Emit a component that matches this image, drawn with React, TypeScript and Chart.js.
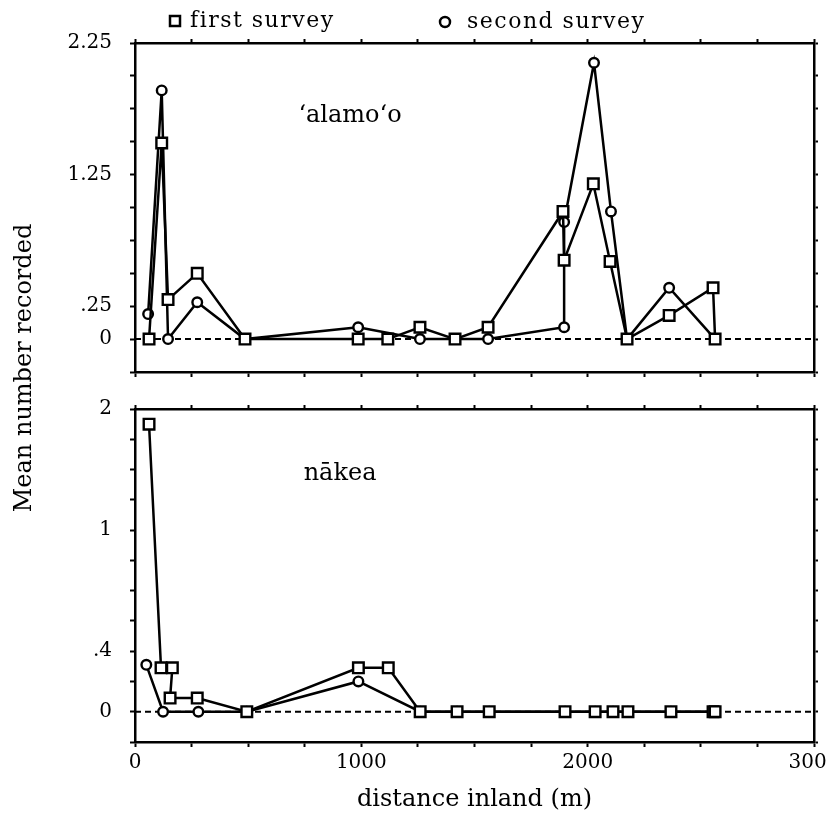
import React, { useEffect, useRef } from 'react';
import { Chart, registerables } from 'chart.js';

Chart.register(...registerables);

const FONT = '"DejaVu Serif", "Liberation Serif", serif';

// ---- data (distance inland in m, mean number recorded) ----
const seriesLabels = ['first survey', 'second survey'];

// 'alamo'o panel
const topFirstX = [62, 118, 146, 275, 486, 986, 1117, 1259, 1414, 1560, 1891, 1896, 2025, 2099, 2174, 2360, 2554, 2563];
const topFirstY = [0, 1.49, 0.3, 0.5, 0, 0, 0, 0.09, 0, 0.09, 0.97, 0.6, 1.18, 0.59, 0, 0.18, 0.39, 0];
const topSecondX = [58, 118, 146, 275, 486, 986, 1259, 1414, 1560, 1896, 1896, 2028, 2103, 2174, 2360, 2563];
const topSecondY = [0.19, 1.89, 0, 0.28, 0, 0.09, 0, 0, 0, 0.09, 0.89, 2.1, 0.97, 0, 0.39, 0];

// nakea panel
const botFirstX = [62, 115, 165, 155, 275, 494, 987, 1119, 1260, 1423, 1565, 1900, 2033, 2112, 2178, 2368, 2554, 2563];
const botFirstY = [1.9, 0.29, 0.29, 0.09, 0.09, 0, 0.29, 0.29, 0, 0, 0, 0, 0, 0, 0, 0, 0, 0];
const botSecondX = [50, 124, 280, 494, 987, 1260, 1423, 1565, 1900, 2033, 2112, 2178, 2368, 2563];
const botSecondY = [0.31, 0, 0, 0, 0.2, 0, 0, 0, 0, 0, 0, 0, 0, 0];

// dashed reference line at zero
const zeroLineX = [0, 3000];
const zeroLineY = [0, 0];

// axes
const xMin = 0;
const xMax = 3000;
const xTickStep = 250;
const xLabelValues = [0, 1000, 2000, 3000];

const topYRange = [-0.25, 2.25];
const topYStep = 0.25;
const topYTickValues = [0, 0.25, 1.25, 2.25];
const topYTickLabels = ['0', '.25', '1.25', '2.25'];

const botYRange = [-0.2, 2.0];
const botYStep = 0.2;
const botYTickValues = [0, 0.4, 1.2, 2];
const botYTickLabels = ['0', '.4', '1', '2'];

const panelNames = ['\u2018alamo\u2018o', 'n\u0101kea'];
const panelNameAt = [
  [950, 1.7],
  [906, 1.57],
];
const xTitle = 'distance inland (m)';
const yTitle = 'Mean number recorded';

const pts = (xs: number[], ys: number[]) => xs.map((x, i) => ({ x, y: ys[i] }));

const zeroFix = (s: any) => {
  s.paddingLeft = 0;
  s.paddingRight = 0;
  s.paddingTop = 0;
  s.paddingBottom = 0;
};

function buildConfig(p: {
  first: { x: number; y: number }[];
  second: { x: number; y: number }[];
  yRange: number[];
  yStep: number;
  tickValues: number[];
  tickLabels: string[];
  name: string;
  nameAt: number[];
  isTop: boolean;
  padding: any;
  xAxisH: number;
  extraPlugins: any[];
}) {
  const labelPlugin = {
    id: 'panelName' + (p.isTop ? 'Top' : 'Bot'),
    afterDatasetsDraw(chart: any) {
      const ctx = chart.ctx;
      const px = chart.scales.x.getPixelForValue(p.nameAt[0]);
      const py = chart.scales.y.getPixelForValue(p.nameAt[1]);
      ctx.save();
      ctx.fillStyle = '#000';
      ctx.font = `24px ${FONT}`;
      ctx.textAlign = 'center';
      ctx.textBaseline = 'middle';
      ctx.fillText(p.name, px, py);
      ctx.restore();
    },
  };
  const yCallback = (v: any) => {
    const idx = p.tickValues.findIndex((t) => Math.abs(t - Number(v)) < 1e-6);
    return idx >= 0 ? p.tickLabels[idx] : '';
  };
  return {
    type: 'scatter' as const,
    data: {
      datasets: [
        {
          label: seriesLabels[0],
          data: p.first,
          showLine: true,
          borderColor: '#000',
          borderWidth: 2.5,
          pointStyle: 'rect',
          pointRadius: 7.5,
          pointBorderWidth: 2.4,
          pointBackgroundColor: '#fff',
          pointBorderColor: '#000',
          tension: 0,
          order: 1,
        },
        {
          label: seriesLabels[1],
          data: p.second,
          showLine: true,
          borderColor: '#000',
          borderWidth: 2.5,
          pointStyle: 'circle',
          pointRadius: 4.8,
          pointBorderWidth: 2.4,
          pointBackgroundColor: '#fff',
          pointBorderColor: '#000',
          tension: 0,
          order: 2,
        },
        {
          label: '',
          data: pts(zeroLineX, zeroLineY),
          showLine: true,
          borderColor: '#000',
          borderWidth: 2,
          borderDash: [6, 4],
          pointRadius: 0,
          order: 3,
        },
      ],
    },
    options: {
      responsive: false,
      animation: false,
      devicePixelRatio: 1,
      layout: { padding: p.padding },
      plugins: { legend: { display: false }, tooltip: { enabled: false }, title: { display: false } },
      scales: {
        x: {
          type: 'linear',
          position: 'bottom',
          min: xMin,
          max: xMax,
          ticks: {
            stepSize: xTickStep,
            autoSkip: false,
            maxRotation: 0,
            display: !p.isTop,
            padding: 4,
            color: '#000',
            font: { family: FONT, size: 20 },
            callback: (v: any) => (xLabelValues.some((t) => Math.abs(t - Number(v)) < 1e-6) ? String(v) : ''),
          },
          grid: { drawOnChartArea: false, drawTicks: true, tickLength: 5, tickWidth: 2, tickColor: '#000' },
          border: { display: true, color: '#000', width: 2.5 },
          title: {
            display: !p.isTop,
            text: xTitle,
            color: '#000',
            font: { family: FONT, size: 24 },
            padding: { top: 0, bottom: 7 },
          },
          afterFit: (s: any) => {
            s.height = p.xAxisH;
            zeroFix(s);
          },
        },
        x2: {
          type: 'linear',
          position: 'top',
          min: xMin,
          max: xMax,
          ticks: { stepSize: xTickStep, autoSkip: false, display: false },
          grid: { drawOnChartArea: false, drawTicks: true, tickLength: 4, tickWidth: 2, tickColor: '#000' },
          border: { display: true, color: '#000', width: 2.5 },
          afterFit: (s: any) => {
            s.height = 4;
            zeroFix(s);
          },
        },
        y: {
          type: 'linear',
          position: 'left',
          min: p.yRange[0],
          max: p.yRange[1],
          ticks: {
            stepSize: p.yStep,
            autoSkip: false,
            padding: 18,
            color: '#000',
            font: { family: FONT, size: 20 },
            callback: yCallback,
          },
          grid: { drawOnChartArea: false, drawTicks: true, tickLength: 5, tickWidth: 2, tickColor: '#000' },
          border: { display: true, color: '#000', width: 2.5 },
          afterFit: (s: any) => {
            s.width = 135;
            zeroFix(s);
          },
        },
        y2: {
          type: 'linear',
          position: 'right',
          min: p.yRange[0],
          max: p.yRange[1],
          ticks: { stepSize: p.yStep, autoSkip: false, display: false },
          grid: { drawOnChartArea: false, drawTicks: true, tickLength: 4, tickWidth: 2, tickColor: '#000' },
          border: { display: true, color: '#000', width: 2.5 },
          afterFit: (s: any) => {
            s.width = 6;
            zeroFix(s);
          },
        },
      },
    },
    plugins: [labelPlugin, ...p.extraPlugins],
  };
}

// legend + shared y title drawn on the top canvas
const legendPlugin = {
  id: 'surveyLegend',
  afterDraw(chart: any) {
    const ctx = chart.ctx;
    const anchors = [
      { mx: 175, my: 21, tx: 190 },
      { mx: 445, my: 22, tx: 467 },
    ];
    const items = chart.data.datasets.filter((d: any) => d.label);
    ctx.save();
    ctx.strokeStyle = '#000';
    ctx.fillStyle = '#000';
    ctx.lineWidth = 2.5;
    ctx.font = `22px ${FONT}`;
    ctx.textBaseline = 'middle';
    ctx.textAlign = 'left';
    try {
      (ctx as any).letterSpacing = '1.5px';
    } catch (e) {}
    items.forEach((ds: any, i: number) => {
      const a = anchors[i];
      if (!a) return;
      ctx.beginPath();
      if (ds.pointStyle === 'rect') {
        ctx.rect(a.mx - 5, a.my - 5, 10, 10);
      } else {
        ctx.arc(a.mx, a.my, 5, 0, Math.PI * 2);
      }
      ctx.stroke();
      ctx.fillText(ds.label, a.tx, a.my);
    });
    ctx.restore();
  },
};

const yTitlePlugin = {
  id: 'sharedYTitle',
  afterDraw(chart: any) {
    const ctx = chart.ctx;
    ctx.save();
    ctx.translate(25, 368);
    ctx.rotate(-Math.PI / 2);
    ctx.fillStyle = '#000';
    ctx.font = `24px ${FONT}`;
    ctx.textAlign = 'center';
    ctx.textBaseline = 'middle';
    ctx.fillText(yTitle, 0, 0);
    ctx.restore();
  },
};

export default function App() {
  const topRef = useRef<HTMLCanvasElement | null>(null);
  const botRef = useRef<HTMLCanvasElement | null>(null);

  useEffect(() => {
    if (!topRef.current || !botRef.current) return;
    const top = new Chart(
      topRef.current,
      buildConfig({
        first: pts(topFirstX, topFirstY),
        second: pts(topSecondX, topSecondY),
        yRange: topYRange,
        yStep: topYStep,
        tickValues: topYTickValues,
        tickLabels: topYTickLabels,
        name: panelNames[0],
        nameAt: panelNameAt[0],
        isTop: true,
        padding: { top: 39, left: 0, right: 8, bottom: 431 },
        xAxisH: 18,
        extraPlugins: [legendPlugin, yTitlePlugin],
      }) as any
    );
    const bot = new Chart(
      botRef.current,
      buildConfig({
        first: pts(botFirstX, botFirstY),
        second: pts(botSecondX, botSecondY),
        yRange: botYRange,
        yStep: botYStep,
        tickValues: botYTickValues,
        tickLabels: botYTickLabels,
        name: panelNames[1],
        nameAt: panelNameAt[1],
        isTop: false,
        padding: { top: 15, left: 0, right: 8, bottom: 0 },
        xAxisH: 79,
        extraPlugins: [],
      }) as any
    );
    return () => {
      top.destroy();
      bot.destroy();
    };
  }, []);

  return (
    <div style={{ position: 'absolute', left: 0, top: 0, width: 828, height: 821, background: '#fff', overflow: 'hidden' }}>
      <canvas
        ref={topRef}
        width={828}
        height={821}
        style={{ position: 'absolute', left: 0, top: 0, width: 828, height: 821, display: 'block' }}
      />
      <canvas
        ref={botRef}
        width={828}
        height={431}
        style={{ position: 'absolute', left: 0, top: 390, width: 828, height: 431, display: 'block' }}
      />
    </div>
  );
}
